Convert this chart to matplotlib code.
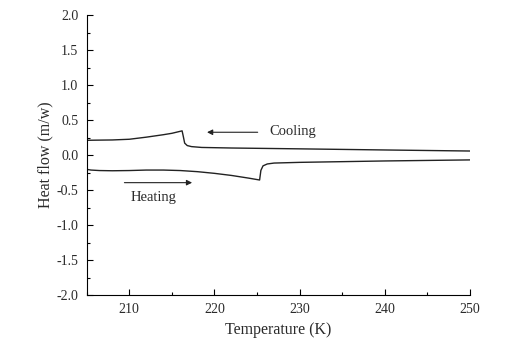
import numpy as np
import matplotlib.pyplot as plt
from matplotlib.ticker import MultipleLocator

plt.rcParams['font.family'] = ['Liberation Serif', 'DejaVu Serif']
plt.rcParams['text.color'] = '#2a2a2a'
plt.rcParams['axes.labelcolor'] = '#2a2a2a'

# cooling curve (upper)
cool_t = [205, 206, 208, 210, 212, 214, 215, 216.2, 216.35, 216.5, 216.8, 217.3, 218.5, 222, 230, 240, 250]
cool_q = [0.21, 0.212, 0.215, 0.225, 0.255, 0.29, 0.31, 0.345, 0.26, 0.17, 0.135, 0.12, 0.108, 0.1, 0.088, 0.072, 0.057]

# heating curve (lower)
heat_t = [205, 205.5, 206.5, 208, 210, 212, 214, 216, 218, 220, 222, 224, 225.3, 225.45, 225.7, 226.2, 227, 230, 240, 250]
heat_q = [-0.205, -0.215, -0.222, -0.225, -0.222, -0.215, -0.215, -0.222, -0.238, -0.262, -0.292, -0.33, -0.357, -0.22, -0.155, -0.128, -0.115, -0.105, -0.085, -0.07]

fig = plt.figure(figsize=(5.11, 3.45), dpi=100)
ax = fig.add_axes([0.1697, 0.1449, 0.75, 0.8116])

ax.plot(cool_t, cool_q, color='#222222', lw=1.0)
ax.plot(heat_t, heat_q, color='#222222', lw=1.0)

ax.annotate('', xy=(218.8, 0.325), xytext=(225.4, 0.325),
            arrowprops=dict(arrowstyle='-|>', color='#222222', lw=0.8, mutation_scale=8))
ax.text(226.4, 0.33, 'Cooling', fontsize=10.5, va='center', ha='left')
ax.annotate('', xy=(217.7, -0.395), xytext=(209.1, -0.395),
            arrowprops=dict(arrowstyle='-|>', color='#222222', lw=0.8, mutation_scale=8))
ax.text(210.1, -0.6, 'Heating', fontsize=10.5, va='center', ha='left')

ax.set_xlim(205, 250)
ax.set_ylim(-2.0, 2.0)
ax.xaxis.set_major_locator(MultipleLocator(10))
ax.xaxis.set_minor_locator(MultipleLocator(5))
ax.yaxis.set_major_locator(MultipleLocator(0.5))
ax.yaxis.set_minor_locator(MultipleLocator(0.25))
ax.set_xticks([210, 220, 230, 240, 250])
ax.yaxis.set_major_formatter(plt.FuncFormatter(lambda v, p: '%.1f' % v))

ax.tick_params(which='both', direction='in', labelsize=10, width=0.8, labelcolor='#2a2a2a')
ax.tick_params(which='major', length=4)
ax.tick_params(which='minor', length=2.5)
ax.tick_params(axis='x', pad=6)
ax.tick_params(axis='y', pad=6)
ax.spines['top'].set_visible(False)
ax.spines['right'].set_visible(False)

ax.set_xlabel('Temperature (K)', fontsize=11.5, labelpad=4)
ax.set_ylabel('Heat flow (m/w)', fontsize=11.5, labelpad=2)

fig.savefig('out.png', dpi=100)
